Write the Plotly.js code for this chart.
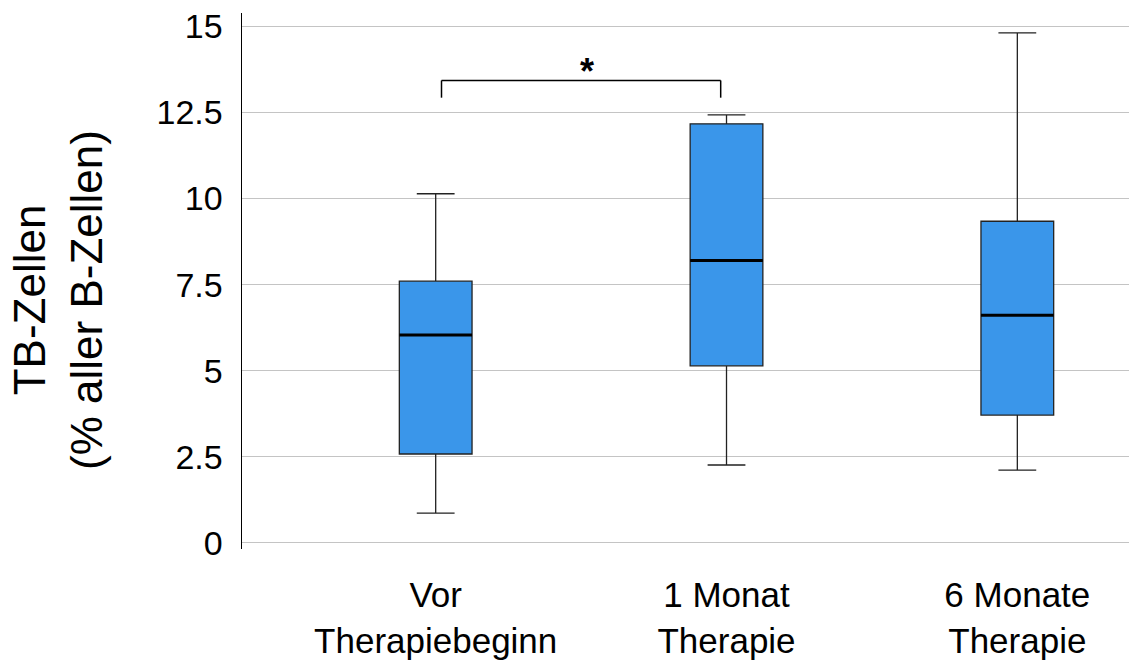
<!DOCTYPE html>
<html>
<head>
<meta charset="utf-8">
<script src="https://cdn.plot.ly/plotly-3.0.1.min.js"></script>
<style>html,body{margin:0;padding:0;background:#fff;}#chart{width:1129px;height:662px;}</style>
</head>
<body>
<div id="chart"></div>
<script>
// Data
const categories = ["Vor<br>Therapiebeginn", "1 Monat<br>Therapie", "6 Monate<br>Therapie"];
const lowerWhisker = [0.86, 2.26, 2.11];
const q1Values = [2.58, 5.14, 3.71];
const medianValues = [6.04, 8.2, 6.61];
const q3Values = [7.6, 12.17, 9.34];
const upperWhisker = [10.14, 12.43, 14.81];
const yTicks = [0, 2.5, 5, 7.5, 10, 12.5, 15];
const yTickText = ["0", "2.5", "5", "7.5", "10", "12.5", "15"];
const sigPair = [0, 1];
const sigLabel = "*";

const positions = categories.map((c, i) => i);
const boxWidth = 0.25;
const FONT = "Liberation Sans, Arial, sans-serif";

const traces = [{
  type: "box",
  x: positions,
  q1: q1Values,
  median: medianValues,
  q3: q3Values,
  lowerfence: lowerWhisker,
  upperfence: upperWhisker,
  width: boxWidth,
  whiskerwidth: 0.52,
  fillcolor: "#3a96ea",
  line: {color: "#222222", width: 1.3},
  boxpoints: false,
  hoverinfo: "skip",
  showlegend: false
}];

positions.forEach((p, i) => {
  traces.push({
    type: "scatter",
    mode: "lines",
    x: [p - boxWidth / 2, p + boxWidth / 2],
    y: [medianValues[i], medianValues[i]],
    line: {color: "#000000", width: 3},
    hoverinfo: "skip",
    showlegend: false
  });
});

// significance bracket above the pair, based on the pair's max whisker
const pairTop = Math.max(upperWhisker[sigPair[0]], upperWhisker[sigPair[1]]);
const bracketLow = pairTop + 0.5;
const bracketHigh = pairTop + 1.0;
const bx0 = sigPair[0] + 0.02, bx1 = sigPair[1] - 0.02;
const lineStyle = {color: "#000000", width: 1.5};

const layout = {
  width: 1129,
  height: 662,
  margin: {l: 242, r: 0, t: 13, b: 113},
  paper_bgcolor: "#ffffff",
  plot_bgcolor: "#ffffff",
  font: {family: FONT, color: "#000000"},
  xaxis: {
    type: "linear",
    range: [-0.666, 2.384],
    tickvals: positions,
    ticktext: categories,
    tickfont: {size: 35, family: FONT, color: "#000000"},
    showgrid: false,
    zeroline: false,
    showline: false,
    ticks: "",
    ticklabelstandoff: 22
  },
  yaxis: {
    range: [-0.18, 15.39],
    tickvals: yTicks,
    ticktext: yTickText,
    tickfont: {size: 34, family: FONT, color: "#000000"},
    showgrid: true,
    gridcolor: "#c4c4c4",
    gridwidth: 1.3,
    zeroline: false,
    showline: true,
    linecolor: "#000000",
    linewidth: 1.5,
    ticks: "",
    ticklabelstandoff: 11
  },
  shapes: [
    {type: "line", xref: "x", yref: "y", x0: bx0, x1: bx1, y0: bracketHigh, y1: bracketHigh, line: lineStyle},
    {type: "line", xref: "x", yref: "y", x0: bx0, x1: bx0, y0: bracketLow, y1: bracketHigh, line: lineStyle},
    {type: "line", xref: "x", yref: "y", x0: bx1, x1: bx1, y0: bracketLow, y1: bracketHigh, line: lineStyle}
  ],
  annotations: [
    {
      xref: "x", yref: "y",
      x: (sigPair[0] + sigPair[1]) / 2 + 0.02, y: bracketHigh,
      text: "<b>" + sigLabel + "</b>",
      showarrow: false,
      xanchor: "center", yanchor: "bottom",
      yshift: -14,
      font: {size: 36, family: FONT, color: "#000000"}
    },
    {
      xref: "paper", yref: "paper",
      x: -0.2075, y: 0.4646,
      xanchor: "center", yanchor: "middle",
      textangle: -90,
      text: "TB-Zellen<br>(% aller B-Zellen)",
      showarrow: false,
      font: {size: 44, family: FONT, color: "#000000"}
    }
  ]
};

Plotly.newPlot("chart", traces, layout, {displayModeBar: false, staticPlot: true});
</script>
</body>
</html>
